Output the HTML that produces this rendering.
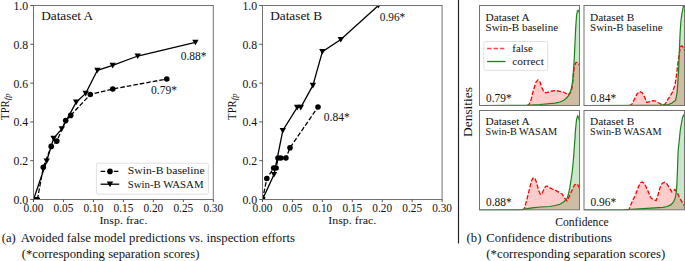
<!DOCTYPE html>
<html><head><meta charset="utf-8"><style>
html,body{margin:0;padding:0;background:#fff;width:685px;height:261px;overflow:hidden;}
svg{display:block;font-family:"Liberation Serif", serif;}
</style></head><body>
<svg width="685" height="261" viewBox="0 0 685 261">
<rect width="685" height="261" fill="#fff"/>
<clipPath id="clip1"><rect x="33.5" y="5.5" width="179.8" height="194.0"/></clipPath>
<g clip-path="url(#clip1)">
<polyline points="37.4,199.5 43.3,167.2 51.2,146.4 56.8,141.1 65.7,120.6 70.7,115.4 90.3,94.5 112.7,89 166.8,79" fill="none" stroke="#000" stroke-width="1.3" stroke-dasharray="4.6,2"/>
<polyline points="33.5,199.5 46.7,161 53.6,138.4 61.8,128.8 76.2,102.2 85.7,93.4 97.4,70.3 112.7,65.4 137.7,56 195.4,42.3" fill="none" stroke="#000" stroke-width="1.3"/>
<circle cx="37.4" cy="199.5" r="2.8" fill="#000"/>
<circle cx="43.3" cy="167.2" r="2.8" fill="#000"/>
<circle cx="51.2" cy="146.4" r="2.8" fill="#000"/>
<circle cx="56.8" cy="141.1" r="2.8" fill="#000"/>
<circle cx="65.7" cy="120.6" r="2.8" fill="#000"/>
<circle cx="70.7" cy="115.4" r="2.8" fill="#000"/>
<circle cx="90.3" cy="94.5" r="2.8" fill="#000"/>
<circle cx="112.7" cy="89" r="2.8" fill="#000"/>
<circle cx="166.8" cy="79" r="2.8" fill="#000"/>
<path d="M30.3,196.9H36.7L33.5,202.5Z" fill="#000"/>
<path d="M43.5,158.4H49.9L46.7,164Z" fill="#000"/>
<path d="M50.4,135.8H56.8L53.6,141.4Z" fill="#000"/>
<path d="M58.6,126.2H65L61.8,131.8Z" fill="#000"/>
<path d="M73,99.6H79.4L76.2,105.2Z" fill="#000"/>
<path d="M82.5,90.8H88.9L85.7,96.4Z" fill="#000"/>
<path d="M94.2,67.7H100.6L97.4,73.3Z" fill="#000"/>
<path d="M109.5,62.8H115.9L112.7,68.4Z" fill="#000"/>
<path d="M134.5,53.4H140.9L137.7,59Z" fill="#000"/>
<path d="M192.2,39.7H198.6L195.4,45.3Z" fill="#000"/>
</g>
<rect x="33.5" y="5.5" width="179.8" height="194" fill="none" stroke="#727272" stroke-width="1"/>
<line x1="30.3" y1="199.5" x2="33.5" y2="199.5" stroke="#555" stroke-width="1"/>
<text x="28.1" y="203.9" font-size="11.8" text-anchor="end" fill="#111" textLength="14.7" lengthAdjust="spacingAndGlyphs">0.0</text>
<line x1="30.3" y1="160.7" x2="33.5" y2="160.7" stroke="#555" stroke-width="1"/>
<text x="28.1" y="165.1" font-size="11.8" text-anchor="end" fill="#111" textLength="14.7" lengthAdjust="spacingAndGlyphs">0.2</text>
<line x1="30.3" y1="121.9" x2="33.5" y2="121.9" stroke="#555" stroke-width="1"/>
<text x="28.1" y="126.3" font-size="11.8" text-anchor="end" fill="#111" textLength="14.7" lengthAdjust="spacingAndGlyphs">0.4</text>
<line x1="30.3" y1="83.1" x2="33.5" y2="83.1" stroke="#555" stroke-width="1"/>
<text x="28.1" y="87.5" font-size="11.8" text-anchor="end" fill="#111" textLength="14.7" lengthAdjust="spacingAndGlyphs">0.6</text>
<line x1="30.3" y1="44.3" x2="33.5" y2="44.3" stroke="#555" stroke-width="1"/>
<text x="28.1" y="48.7" font-size="11.8" text-anchor="end" fill="#111" textLength="14.7" lengthAdjust="spacingAndGlyphs">0.8</text>
<line x1="30.3" y1="5.5" x2="33.5" y2="5.5" stroke="#555" stroke-width="1"/>
<text x="28.1" y="9.9" font-size="11.8" text-anchor="end" fill="#111" textLength="14.7" lengthAdjust="spacingAndGlyphs">1.0</text>
<line x1="33.5" y1="199.5" x2="33.5" y2="202.1" stroke="#555" stroke-width="1"/>
<text x="33.5" y="211.8" font-size="11.8" text-anchor="middle" fill="#111" textLength="19.8" lengthAdjust="spacingAndGlyphs">0.00</text>
<line x1="63.47" y1="199.5" x2="63.47" y2="202.1" stroke="#555" stroke-width="1"/>
<text x="63.47" y="211.8" font-size="11.8" text-anchor="middle" fill="#111" textLength="19.8" lengthAdjust="spacingAndGlyphs">0.05</text>
<line x1="93.43" y1="199.5" x2="93.43" y2="202.1" stroke="#555" stroke-width="1"/>
<text x="93.43" y="211.8" font-size="11.8" text-anchor="middle" fill="#111" textLength="19.8" lengthAdjust="spacingAndGlyphs">0.10</text>
<line x1="123.4" y1="199.5" x2="123.4" y2="202.1" stroke="#555" stroke-width="1"/>
<text x="123.4" y="211.8" font-size="11.8" text-anchor="middle" fill="#111" textLength="19.8" lengthAdjust="spacingAndGlyphs">0.15</text>
<line x1="153.37" y1="199.5" x2="153.37" y2="202.1" stroke="#555" stroke-width="1"/>
<text x="153.37" y="211.8" font-size="11.8" text-anchor="middle" fill="#111" textLength="19.8" lengthAdjust="spacingAndGlyphs">0.20</text>
<line x1="183.33" y1="199.5" x2="183.33" y2="202.1" stroke="#555" stroke-width="1"/>
<text x="183.33" y="211.8" font-size="11.8" text-anchor="middle" fill="#111" textLength="19.8" lengthAdjust="spacingAndGlyphs">0.25</text>
<line x1="213.3" y1="199.5" x2="213.3" y2="202.1" stroke="#555" stroke-width="1"/>
<text x="213.3" y="211.8" font-size="11.8" text-anchor="middle" fill="#111" textLength="19.8" lengthAdjust="spacingAndGlyphs">0.30</text>
<text x="123.4" y="223.8" font-size="11" text-anchor="middle" fill="#111" textLength="48" lengthAdjust="spacingAndGlyphs">Insp. frac.</text>
<text x="41.2" y="20.3" font-size="12" text-anchor="start" fill="#111" textLength="52" lengthAdjust="spacingAndGlyphs">Dataset A</text>
<text x="180.7" y="59.6" font-size="11.8" text-anchor="start" fill="#111" textLength="25.8" lengthAdjust="spacingAndGlyphs">0.88*</text>
<text x="151" y="94.1" font-size="11.8" text-anchor="start" fill="#111" textLength="26" lengthAdjust="spacingAndGlyphs">0.79*</text>
<text transform="translate(9.3,119.9) rotate(-90)" font-size="11.5" fill="#111"><tspan textLength="19.6" lengthAdjust="spacingAndGlyphs">TPR</tspan><tspan font-size="8.8" font-style="italic" dy="1">fp</tspan></text>
<rect x="96.4" y="163.2" width="112.2" height="31" rx="2" fill="#fff" fill-opacity="0.8" stroke="#ddd" stroke-width="0.9"/>
<line x1="100.6" y1="171.4" x2="119.2" y2="171.4" stroke="#000" stroke-width="1.3" stroke-dasharray="4.6,2"/>
<circle cx="110" cy="171.4" r="2.8" fill="#000"/>
<line x1="100.6" y1="184.2" x2="119.2" y2="184.2" stroke="#000" stroke-width="1.3"/>
<path d="M106.8,181.6H113.2L110,187.2Z" fill="#000"/>
<text x="127.8" y="174.2" font-size="9.6" text-anchor="start" fill="#111" textLength="76.8" lengthAdjust="spacingAndGlyphs">Swin-B baseline</text>
<text x="127.8" y="188.2" font-size="9.6" text-anchor="start" fill="#111" textLength="75.7" lengthAdjust="spacingAndGlyphs">Swin-B WASAM</text>
<clipPath id="clip2"><rect x="262.5" y="5.5" width="179.60000000000002" height="194.0"/></clipPath>
<g clip-path="url(#clip2)">
<polyline points="262.5,199.5 266.8,178.5 273.7,168 276.1,168 278,158 280.8,158 285.9,158 290,147.7 318,107" fill="none" stroke="#000" stroke-width="1.3" stroke-dasharray="4.6,2"/>
<polyline points="262.5,199.5 274,174.5 282.8,130.5 297.2,107.4 300.8,107.4 312.9,85.4 322.4,51.6 340.8,39.6 378.4,5.5" fill="none" stroke="#000" stroke-width="1.3"/>
<circle cx="262.5" cy="199.5" r="2.8" fill="#000"/>
<circle cx="266.8" cy="178.5" r="2.8" fill="#000"/>
<circle cx="273.7" cy="168" r="2.8" fill="#000"/>
<circle cx="276.1" cy="168" r="2.8" fill="#000"/>
<circle cx="278" cy="158" r="2.8" fill="#000"/>
<circle cx="280.8" cy="158" r="2.8" fill="#000"/>
<circle cx="285.9" cy="158" r="2.8" fill="#000"/>
<circle cx="290" cy="147.7" r="2.8" fill="#000"/>
<circle cx="318" cy="107" r="2.8" fill="#000"/>
<path d="M259.3,196.9H265.7L262.5,202.5Z" fill="#000"/>
<path d="M270.8,171.9H277.2L274,177.5Z" fill="#000"/>
<path d="M279.6,127.9H286L282.8,133.5Z" fill="#000"/>
<path d="M294,104.8H300.4L297.2,110.4Z" fill="#000"/>
<path d="M297.6,104.8H304L300.8,110.4Z" fill="#000"/>
<path d="M309.7,82.8H316.1L312.9,88.4Z" fill="#000"/>
<path d="M319.2,49H325.6L322.4,54.6Z" fill="#000"/>
<path d="M337.6,37H344L340.8,42.6Z" fill="#000"/>
<path d="M375.2,2.9H381.6L378.4,8.5Z" fill="#000"/>
</g>
<rect x="262.5" y="5.5" width="179.6" height="194" fill="none" stroke="#727272" stroke-width="1"/>
<line x1="259.3" y1="199.5" x2="262.5" y2="199.5" stroke="#555" stroke-width="1"/>
<text x="257.1" y="203.9" font-size="11.8" text-anchor="end" fill="#111" textLength="14.7" lengthAdjust="spacingAndGlyphs">0.0</text>
<line x1="259.3" y1="160.7" x2="262.5" y2="160.7" stroke="#555" stroke-width="1"/>
<text x="257.1" y="165.1" font-size="11.8" text-anchor="end" fill="#111" textLength="14.7" lengthAdjust="spacingAndGlyphs">0.2</text>
<line x1="259.3" y1="121.9" x2="262.5" y2="121.9" stroke="#555" stroke-width="1"/>
<text x="257.1" y="126.3" font-size="11.8" text-anchor="end" fill="#111" textLength="14.7" lengthAdjust="spacingAndGlyphs">0.4</text>
<line x1="259.3" y1="83.1" x2="262.5" y2="83.1" stroke="#555" stroke-width="1"/>
<text x="257.1" y="87.5" font-size="11.8" text-anchor="end" fill="#111" textLength="14.7" lengthAdjust="spacingAndGlyphs">0.6</text>
<line x1="259.3" y1="44.3" x2="262.5" y2="44.3" stroke="#555" stroke-width="1"/>
<text x="257.1" y="48.7" font-size="11.8" text-anchor="end" fill="#111" textLength="14.7" lengthAdjust="spacingAndGlyphs">0.8</text>
<line x1="259.3" y1="5.5" x2="262.5" y2="5.5" stroke="#555" stroke-width="1"/>
<text x="257.1" y="9.9" font-size="11.8" text-anchor="end" fill="#111" textLength="14.7" lengthAdjust="spacingAndGlyphs">1.0</text>
<line x1="262.5" y1="199.5" x2="262.5" y2="202.1" stroke="#555" stroke-width="1"/>
<text x="262.5" y="211.8" font-size="11.8" text-anchor="middle" fill="#111" textLength="19.8" lengthAdjust="spacingAndGlyphs">0.00</text>
<line x1="292.43" y1="199.5" x2="292.43" y2="202.1" stroke="#555" stroke-width="1"/>
<text x="292.43" y="211.8" font-size="11.8" text-anchor="middle" fill="#111" textLength="19.8" lengthAdjust="spacingAndGlyphs">0.05</text>
<line x1="322.37" y1="199.5" x2="322.37" y2="202.1" stroke="#555" stroke-width="1"/>
<text x="322.37" y="211.8" font-size="11.8" text-anchor="middle" fill="#111" textLength="19.8" lengthAdjust="spacingAndGlyphs">0.10</text>
<line x1="352.3" y1="199.5" x2="352.3" y2="202.1" stroke="#555" stroke-width="1"/>
<text x="352.3" y="211.8" font-size="11.8" text-anchor="middle" fill="#111" textLength="19.8" lengthAdjust="spacingAndGlyphs">0.15</text>
<line x1="382.23" y1="199.5" x2="382.23" y2="202.1" stroke="#555" stroke-width="1"/>
<text x="382.23" y="211.8" font-size="11.8" text-anchor="middle" fill="#111" textLength="19.8" lengthAdjust="spacingAndGlyphs">0.20</text>
<line x1="412.17" y1="199.5" x2="412.17" y2="202.1" stroke="#555" stroke-width="1"/>
<text x="412.17" y="211.8" font-size="11.8" text-anchor="middle" fill="#111" textLength="19.8" lengthAdjust="spacingAndGlyphs">0.25</text>
<line x1="442.1" y1="199.5" x2="442.1" y2="202.1" stroke="#555" stroke-width="1"/>
<text x="442.1" y="211.8" font-size="11.8" text-anchor="middle" fill="#111" textLength="19.8" lengthAdjust="spacingAndGlyphs">0.30</text>
<text x="352.3" y="223.8" font-size="11" text-anchor="middle" fill="#111" textLength="48" lengthAdjust="spacingAndGlyphs">Insp. frac.</text>
<text x="270.2" y="20.3" font-size="12" text-anchor="start" fill="#111" textLength="52" lengthAdjust="spacingAndGlyphs">Dataset B</text>
<text x="379.8" y="20.7" font-size="11.5" text-anchor="start" fill="#111" textLength="25.4" lengthAdjust="spacingAndGlyphs">0.96*</text>
<text x="323.8" y="120.7" font-size="11.5" text-anchor="start" fill="#111" textLength="25.9" lengthAdjust="spacingAndGlyphs">0.84*</text>
<text transform="translate(236.3,119.9) rotate(-90)" font-size="11.5" fill="#111"><tspan textLength="19.6" lengthAdjust="spacingAndGlyphs">TPR</tspan><tspan font-size="8.8" font-style="italic" dy="1">fp</tspan></text>
<line x1="458.5" y1="0" x2="458.5" y2="243.5" stroke="#222" stroke-width="1.2"/>
<clipPath id="dclip1"><rect x="479.5" y="5.5" width="100" height="100.8"/></clipPath>
<g clip-path="url(#dclip1)">
<polygon points="527,105.5 527,105.5 529,104.6 531,100 533.5,90 536,82 538,79.9 540,82 542,88 544,92 546,92.8 549,92 552,91 555,90.6 558,91 561,91.6 563.4,92 566,93.5 568,95 570,93 571.5,90.6 573,80 574.2,67.2 575.5,63 577,62.2 578.5,63.5 580,66 580,105.5" fill="#ff0000" fill-opacity="0.2"/>
<polygon points="480,105.5 480,105.5 525,105.3 540,104.5 555,103.2 560,102 563.4,100.5 566,98.5 568.8,95.5 570.3,92 571.5,88 572.6,81 573.5,70 574.2,60 574.9,45 575.7,28 576.5,16 577.4,11 578.2,10.3 579,11.5 580,15.4 581,22 581,105.5" fill="#008000" fill-opacity="0.2"/>
<polyline points="527,105.5 529,104.6 531,100 533.5,90 536,82 538,79.9 540,82 542,88 544,92 546,92.8 549,92 552,91 555,90.6 558,91 561,91.6 563.4,92 566,93.5 568,95 570,93 571.5,90.6 573,80 574.2,67.2 575.5,63 577,62.2 578.5,63.5 580,66" fill="none" stroke="#ff0000" stroke-width="1.3" stroke-dasharray="4.4,1.8"/>
<polyline points="480,105.5 525,105.3 540,104.5 555,103.2 560,102 563.4,100.5 566,98.5 568.8,95.5 570.3,92 571.5,88 572.6,81 573.5,70 574.2,60 574.9,45 575.7,28 576.5,16 577.4,11 578.2,10.3 579,11.5 580,15.4 581,22" fill="none" stroke="#1a801a" stroke-width="1.2"/>
</g>
<rect x="479.5" y="5.5" width="100" height="100" fill="none" stroke="#727272" stroke-width="1"/>
<text x="485.5" y="20.9" font-size="9.6" text-anchor="start" fill="#111" textLength="44.3" lengthAdjust="spacingAndGlyphs">Dataset A</text>
<text x="485.5" y="30.7" font-size="9.6" text-anchor="start" fill="#111" textLength="72.6" lengthAdjust="spacingAndGlyphs">Swin-B baseline</text>
<text x="486" y="101.9" font-size="11.5" text-anchor="start" fill="#111" textLength="25.6" lengthAdjust="spacingAndGlyphs">0.79*</text>
<rect x="483.8" y="41.5" width="63.9" height="28.8" rx="2" fill="#fff" fill-opacity="0.8" stroke="#ddd" stroke-width="0.9"/>
<line x1="487.1" y1="48.5" x2="505.5" y2="48.5" stroke="#ff4545" stroke-width="1.4" stroke-dasharray="4.4,2"/>
<line x1="487.1" y1="61.5" x2="505.5" y2="61.5" stroke="#1a801a" stroke-width="1.3"/>
<text x="512.3" y="51.9" font-size="9.6" text-anchor="start" fill="#111" textLength="20.4" lengthAdjust="spacingAndGlyphs">false</text>
<text x="512.3" y="64.9" font-size="9.6" text-anchor="start" fill="#111" textLength="31.5" lengthAdjust="spacingAndGlyphs">correct</text>
<clipPath id="dclip2"><rect x="584" y="5.5" width="100.5" height="100.8"/></clipPath>
<g clip-path="url(#dclip2)">
<polygon points="629,105.5 629,105.5 631.5,104.8 634,100 637,94 639.8,91.5 642.5,93 645,98 646.8,102.4 649,102 651,101 653.4,100.6 656,101.2 658,102.5 659.9,103.5 662,104.6 664.3,104.8 666.5,102 668,99 669.7,96.9 672.5,92 675,85 676.5,75 677.8,64 679,55 680,49.5 680.8,46.5 681.8,45.8 683,47 685,52 685,105.5" fill="#ff0000" fill-opacity="0.2"/>
<polygon points="584,105.5 584,105.5 640,105.3 660,105 668.6,104.5 672,103 675.6,100.2 677.2,92 678.5,71.8 679.2,55 679.8,40 680.3,29.7 681,20 681.8,14.7 682.8,9 683.9,4 685,0 685,105.5" fill="#008000" fill-opacity="0.2"/>
<polyline points="629,105.5 631.5,104.8 634,100 637,94 639.8,91.5 642.5,93 645,98 646.8,102.4 649,102 651,101 653.4,100.6 656,101.2 658,102.5 659.9,103.5 662,104.6 664.3,104.8 666.5,102 668,99 669.7,96.9 672.5,92 675,85 676.5,75 677.8,64 679,55 680,49.5 680.8,46.5 681.8,45.8 683,47 685,52" fill="none" stroke="#ff0000" stroke-width="1.3" stroke-dasharray="4.4,1.8"/>
<polyline points="584,105.5 640,105.3 660,105 668.6,104.5 672,103 675.6,100.2 677.2,92 678.5,71.8 679.2,55 679.8,40 680.3,29.7 681,20 681.8,14.7 682.8,9 683.9,4 685,0" fill="none" stroke="#1a801a" stroke-width="1.2"/>
</g>
<rect x="584" y="5.5" width="100.5" height="100" fill="none" stroke="#727272" stroke-width="1"/>
<text x="590" y="20.9" font-size="9.6" text-anchor="start" fill="#111" textLength="44.3" lengthAdjust="spacingAndGlyphs">Dataset B</text>
<text x="590" y="30.7" font-size="9.6" text-anchor="start" fill="#111" textLength="72.6" lengthAdjust="spacingAndGlyphs">Swin-B baseline</text>
<text x="590.5" y="101.9" font-size="11.5" text-anchor="start" fill="#111" textLength="25.6" lengthAdjust="spacingAndGlyphs">0.84*</text>
<clipPath id="dclip3"><rect x="479.5" y="110.5" width="100" height="100.1"/></clipPath>
<g clip-path="url(#dclip3)">
<polygon points="522,209.8 522,210 524.3,209 527,199 529.5,189 531.5,181 532.8,178.3 534,177.7 535.3,179 536.8,183.5 538.5,190 540.4,194.4 542,193.5 543.8,189.5 545.5,186.5 547,186 549,187.3 552.5,189.2 555,190 559.9,192.9 562,194 564.5,198 566.9,200.9 568.5,198 570.8,192.9 573,188 574.5,185 576.2,183.9 578,185 579.4,187.9 581,191 581,209.8" fill="#ff0000" fill-opacity="0.2"/>
<polygon points="479,209.8 479,210 520,209.8 532,207.8 540,207 549.9,206.5 555,205.5 559.9,204.3 563.5,202 566.9,198.9 568.5,194 569.8,187.9 571,180 572.2,172 573.4,160 574.5,145 575.5,130 576.5,119.8 577.6,116 578.6,117 579.5,121 580.8,125.9 580.8,209.8" fill="#008000" fill-opacity="0.2"/>
<polyline points="522,210 524.3,209 527,199 529.5,189 531.5,181 532.8,178.3 534,177.7 535.3,179 536.8,183.5 538.5,190 540.4,194.4 542,193.5 543.8,189.5 545.5,186.5 547,186 549,187.3 552.5,189.2 555,190 559.9,192.9 562,194 564.5,198 566.9,200.9 568.5,198 570.8,192.9 573,188 574.5,185 576.2,183.9 578,185 579.4,187.9 581,191" fill="none" stroke="#ff0000" stroke-width="1.3" stroke-dasharray="4.4,1.8"/>
<polyline points="479,210 520,209.8 532,207.8 540,207 549.9,206.5 555,205.5 559.9,204.3 563.5,202 566.9,198.9 568.5,194 569.8,187.9 571,180 572.2,172 573.4,160 574.5,145 575.5,130 576.5,119.8 577.6,116 578.6,117 579.5,121 580.8,125.9" fill="none" stroke="#1a801a" stroke-width="1.2"/>
</g>
<rect x="479.5" y="110.5" width="100" height="99.3" fill="none" stroke="#727272" stroke-width="1"/>
<text x="485.5" y="125" font-size="9.6" text-anchor="start" fill="#111" textLength="44.3" lengthAdjust="spacingAndGlyphs">Dataset A</text>
<text x="485.5" y="134.8" font-size="9.6" text-anchor="start" fill="#111" textLength="71.7" lengthAdjust="spacingAndGlyphs">Swin-B WASAM</text>
<text x="486" y="206.2" font-size="11.5" text-anchor="start" fill="#111" textLength="25.6" lengthAdjust="spacingAndGlyphs">0.88*</text>
<clipPath id="dclip4"><rect x="584" y="110.5" width="100.5" height="100.1"/></clipPath>
<g clip-path="url(#dclip4)">
<polygon points="627,209.8 627,210 629,209.4 632,202 636,193.5 638.5,186.5 640.5,182.8 642.2,181.9 644.5,183.5 647.5,190 650.9,197.9 653.5,199.6 656,200.6 658,195 659.9,187.9 662,183.5 664.5,182.3 667,184 669.5,188 671.8,191.9 674.8,189.5 677,192 678.5,195.5 680.8,199.9 683.8,204.9 686,208 686,209.8" fill="#ff0000" fill-opacity="0.2"/>
<polygon points="584,209.8 584,210 623,209.8 642.9,208.6 662.9,207.4 667,206.5 670.8,204.9 673.5,202 675.2,197.9 676.3,192 676.8,185.9 677.4,172 677.8,160 678.2,150 679.3,140 680.3,130 681.3,124 682.5,117.5 683.7,115 685,116 685,209.8" fill="#008000" fill-opacity="0.2"/>
<polyline points="627,210 629,209.4 632,202 636,193.5 638.5,186.5 640.5,182.8 642.2,181.9 644.5,183.5 647.5,190 650.9,197.9 653.5,199.6 656,200.6 658,195 659.9,187.9 662,183.5 664.5,182.3 667,184 669.5,188 671.8,191.9 674.8,189.5 677,192 678.5,195.5 680.8,199.9 683.8,204.9 686,208" fill="none" stroke="#ff0000" stroke-width="1.3" stroke-dasharray="4.4,1.8"/>
<polyline points="584,210 623,209.8 642.9,208.6 662.9,207.4 667,206.5 670.8,204.9 673.5,202 675.2,197.9 676.3,192 676.8,185.9 677.4,172 677.8,160 678.2,150 679.3,140 680.3,130 681.3,124 682.5,117.5 683.7,115 685,116" fill="none" stroke="#1a801a" stroke-width="1.2"/>
</g>
<rect x="584" y="110.5" width="100.5" height="99.3" fill="none" stroke="#727272" stroke-width="1"/>
<text x="590" y="125" font-size="9.6" text-anchor="start" fill="#111" textLength="44.3" lengthAdjust="spacingAndGlyphs">Dataset B</text>
<text x="590" y="134.8" font-size="9.6" text-anchor="start" fill="#111" textLength="71.7" lengthAdjust="spacingAndGlyphs">Swin-B WASAM</text>
<text x="590.5" y="206.2" font-size="11.5" text-anchor="start" fill="#111" textLength="25.6" lengthAdjust="spacingAndGlyphs">0.96*</text>
<text transform="translate(471.8,137) rotate(-90)" font-size="11.5" fill="#111" textLength="50" lengthAdjust="spacingAndGlyphs">Densities</text>
<text x="582" y="225.5" font-size="11.7" text-anchor="middle" fill="#111" textLength="53.3" lengthAdjust="spacingAndGlyphs">Confidence</text>
<text x="1.8" y="241.8" font-size="12.4" text-anchor="start" fill="#111" textLength="14" lengthAdjust="spacingAndGlyphs">(a)</text>
<text x="20.8" y="241.8" font-size="12.4" text-anchor="start" fill="#111" textLength="274.1" lengthAdjust="spacingAndGlyphs">Avoided false model predictions vs. inspection efforts</text>
<text x="21.8" y="257.8" font-size="12.4" text-anchor="start" fill="#111" textLength="177.6" lengthAdjust="spacingAndGlyphs">(*corresponding separation scores)</text>
<text x="466.6" y="241.8" font-size="12.4" text-anchor="start" fill="#111" textLength="14.8" lengthAdjust="spacingAndGlyphs">(b)</text>
<text x="486.3" y="241.8" font-size="12.4" text-anchor="start" fill="#111" textLength="125.7" lengthAdjust="spacingAndGlyphs">Confidence distributions</text>
<text x="486.3" y="257.8" font-size="12.4" text-anchor="start" fill="#111" textLength="179" lengthAdjust="spacingAndGlyphs">(*corresponding separation scores)</text>
</svg>
</body></html>
